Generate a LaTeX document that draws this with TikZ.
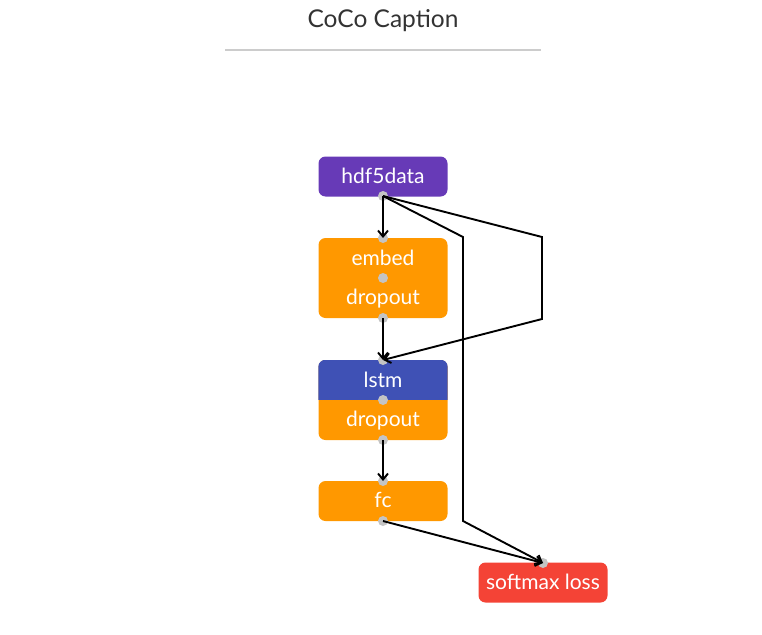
\documentclass[tikz,border=0pt]{standalone}
\usepackage{fontspec}
\setmainfont{Lato}
\usetikzlibrary{positioning, calc, arrows.meta}

\definecolor{datapurple}{HTML}{673AB7}
\definecolor{layerorange}{HTML}{FF9800}
\definecolor{lstmblue}{HTML}{3F51B5}
\definecolor{lossred}{HTML}{F44336}
\definecolor{portgray}{HTML}{C4C4C4}
\definecolor{titlegray}{HTML}{333333}
\definecolor{rulegray}{HTML}{CCCCCC}

\tikzset{
    layerbox/.style={rectangle, rounded corners=7, minimum width=129, minimum height=40, inner sep=0},
    layertext/.style={text=white, font=\fontsize{21}{24}\selectfont},
    port/.style={circle, fill=portgray, minimum size=10, inner sep=0},
    flow/.style={line width=1.9, -{Straight Barb[length=6, width=10]}}
}

\begin{document}
\begin{tikzpicture}[x=1pt, y=-1pt]

    \useasboundingbox (0,0) rectangle (762,634);

    % Title and rule
    \node[text=titlegray, font=\fontsize{24.5}{28}\selectfont] (title) at (383,21) {CoCo Caption};
    \draw[rulegray, line width=1.5] (225,50) -- (541,50);

    % Layers
    \node[layerbox, fill=datapurple] (hdf) at (383,176.5) {};
    \node[layertext] at ([yshift=1]hdf) {hdf5data};

    \node[layerbox, fill=layerorange, minimum height=80] (embed) at (383,278) {};
    \node[layertext] at (383,258) {embed};
    \node[layertext] at (383,299) {dropout};

    \node[layerbox, fill=layerorange, minimum height=80] (lstm) at (383,400) {};
    \begin{scope}
        \clip[rounded corners=7] (lstm.south west) rectangle (lstm.north east);
        \fill[lstmblue] (lstm.west) rectangle (lstm.north east);
    \end{scope}
    \node[layertext] at (383,380) {lstm};
    \node[layertext] at (383,421) {dropout};

    \node[layerbox, fill=layerorange] (fc) at (383,501) {};
    \node[layertext] at ([yshift=1]fc) {fc};

    \node[layerbox, fill=lossred] (loss) at (543,582.5) {};
    \node[layertext] at ([yshift=1]loss) {softmax loss};

    % Ports
    \node[port] (hdf-out) at (383,196) {};
    \node[port] (embed-in) at (383,238) {};
    \node[port] (embed-mid) at (383,278) {};
    \node[port] (embed-out) at (383,318) {};
    \node[port] (lstm-in) at (383,360) {};
    \node[port] (lstm-mid) at (383,400) {};
    \node[port] (lstm-out) at (383,440) {};
    \node[port] (fc-in) at (383,481) {};
    \node[port] (fc-out) at (383,521) {};
    \node[port] (loss-in) at (543,563) {};

    % Bends
    \coordinate (bend1) at (542,237);
    \coordinate (bend2) at (542,319);
    \coordinate (bend3) at (463,237);
    \coordinate (bend4) at (463,521);

    % Connections
    \draw[flow] (hdf-out.center) -- (embed-in.center);
    \draw[flow] (embed-out.center) -- (lstm-in.center);
    \draw[flow] (hdf-out.center) -- (bend1) -- (bend2) -- (lstm-in.center);
    \draw[flow] (hdf-out.center) -- (bend3) -- (bend4) -- (loss-in.center);
    \draw[flow] (lstm-out.center) -- (fc-in.center);
    \draw[flow] (fc-out.center) -- (loss-in.center);

\end{tikzpicture}
\end{document}
